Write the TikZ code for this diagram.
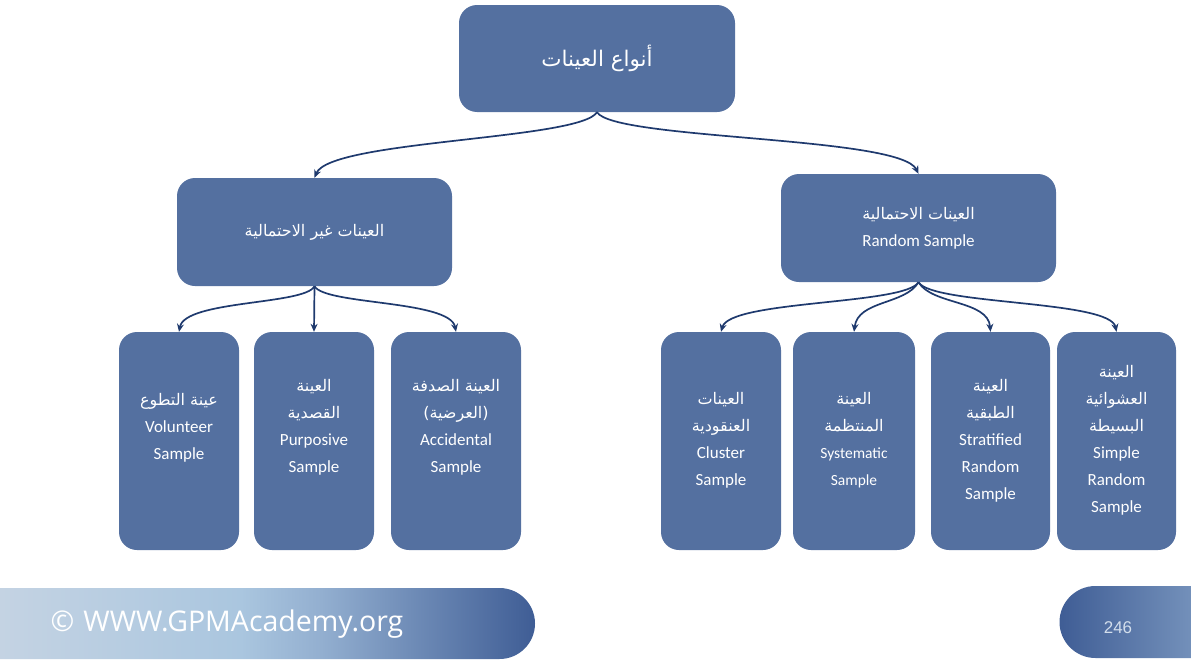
\documentclass[tikz,border=0pt]{standalone}
\usepackage{fontspec}
\setmainfont{Carlito}
\newfontfamily\arabicfont[Script=Arabic]{DejaVu Sans}
\newfontfamily\footfont{Open Sans}
\newfontfamily\numfont{Liberation Sans}
\TeXXeTstate=1
\usetikzlibrary{arrows.meta}
\definecolor{boxblue}{HTML}{5470A0}
\definecolor{arrowblue}{HTML}{1F3A6E}
\definecolor{fA}{HTML}{C4D3E3}
\definecolor{fB}{HTML}{AAC6DF}
\definecolor{fC}{HTML}{93AFD0}
\definecolor{fD}{HTML}{7390BA}
\definecolor{fE}{HTML}{3F5D95}
\definecolor{numcol}{HTML}{D3DEEC}
\pgfdeclarehorizontalshading{footL}{100bp}{color(0bp)=(fA); color(25bp)=(fA); color(47.5bp)=(fB); color(55bp)=(fC); color(62.5bp)=(fD); color(75bp)=(fE); color(100bp)=(fE)}
\newcommand{\artxt}[1]{{\arabicfont\fontsize{16}{27}\selectfont\beginR #1\endR}}
\tikzset{
  boxnode/.style={fill=boxblue, rounded corners=18pt, inner sep=0pt, text=white, align=center},
  smallbox/.style={boxnode, minimum height=218pt},
  boxtext/.style={text=white, align=center, inner sep=0pt, font=\fontsize{17}{27}\selectfont},
  conn/.style={draw=arrowblue, line width=1.7pt, -{Stealth[length=8pt,width=7pt]}}
}
\begin{document}
\begin{tikzpicture}[x=1pt,y=-1pt]
\useasboundingbox (0,0) rectangle (1191,664);
% main boxes
\node[boxnode, minimum width=276pt, minimum height=107pt] (top) at (597,58.5) {{\arabicfont\fontsize{21.5}{28}\selectfont\beginR أنواع العينات\endR}};
\node[boxnode, minimum width=275pt, minimum height=108pt, font=\fontsize{17}{27}\selectfont] (lmid) at (314.5,232) {\artxt{العينات غير الاحتمالية}};
\node[boxnode, minimum width=275pt, minimum height=108pt, font=\fontsize{17}{27}\selectfont] (rmid) at (918.5,228) {\artxt{العينات الاحتمالية}\\Random Sample};
% bottom boxes
\node[smallbox, minimum width=120pt] (vol) at (179,441) {};
\node[smallbox, minimum width=120pt] (pur) at (314,441) {};
\node[smallbox, minimum width=130pt] (acc) at (456,441) {};
\node[smallbox, minimum width=120pt] (clu) at (721,441) {};
\node[smallbox, minimum width=122pt] (sys) at (854,441) {};
\node[smallbox, minimum width=119pt] (str) at (990.5,441) {};
\node[smallbox, minimum width=119pt] (sim) at (1116.5,441) {};
% texts
\node[boxtext] (volT) at (179,427.5) {\artxt{عينة التطوع}\\Volunteer\\Sample};
\node[boxtext] (purT) at (314,427) {\artxt{العينة}\\\artxt{القصدية}\\Purposive\\Sample};
\node[boxtext] (accT) at (456,427) {\artxt{العينة الصدفة}\\\artxt{(العرضية)}\\Accidental\\Sample};
\node[boxtext] (cluT) at (721,440) {\artxt{العينات}\\\artxt{العنقودية}\\Cluster\\Sample};
\node[boxtext] (sysT) at (854,440.5) {\artxt{العينة}\\\artxt{المنتظمة}\\{\fontsize{15.5}{27}\selectfont Systematic}\\{\fontsize{15.5}{27}\selectfont Sample}};
\node[boxtext] (strT) at (990.5,441) {\artxt{العينة}\\\artxt{الطبقية}\\Stratified\\Random\\Sample};
\node[boxtext] (simT) at (1116.5,440) {\artxt{العينة}\\\artxt{العشوائية}\\\artxt{البسيطة}\\Simple\\Random\\Sample};
% connectors
\draw[conn] (top.south) .. controls (580,140) and (330,140) .. (lmid.north);
\draw[conn] (top.south) .. controls (614,140) and (900,136) .. (rmid.north);
\draw[conn] (lmid.south) .. controls (305,305) and (185,300) .. (vol.north);
\draw[conn] (lmid.south) -- (pur.north);
\draw[conn] (lmid.south) .. controls (325,305) and (450,300) .. (acc.north);
\draw[conn] (rmid.south) .. controls (905,305) and (730,300) .. (clu.north);
\draw[conn] (rmid.south) .. controls (905,305) and (858,300) .. (sys.north);
\draw[conn] (rmid.south) .. controls (932,305) and (988,300) .. (str.north);
\draw[conn] (rmid.south) .. controls (932,305) and (1110,300) .. (sim.north);
% footer
\shade[shading=footL] (0,588) -- (499.5,588) arc(-90:90:35.5) -- (0,659) -- cycle;
\shade[left color=fE, right color=fD] (1095.5,586) -- (1191,586) -- (1191,658) -- (1095.5,658) arc(90:270:36) -- cycle;
\node[text=white, inner sep=0pt, font=\footfont\fontsize{28.5}{32}\selectfont] (site) at (227,624) {©\hspace{9pt}WWW.GPMAcademy.org};
\node[text=numcol, inner sep=0pt, font=\numfont\fontsize{17}{20}\selectfont] (page) at (1118,628) {246};
\end{tikzpicture}
\end{document}
